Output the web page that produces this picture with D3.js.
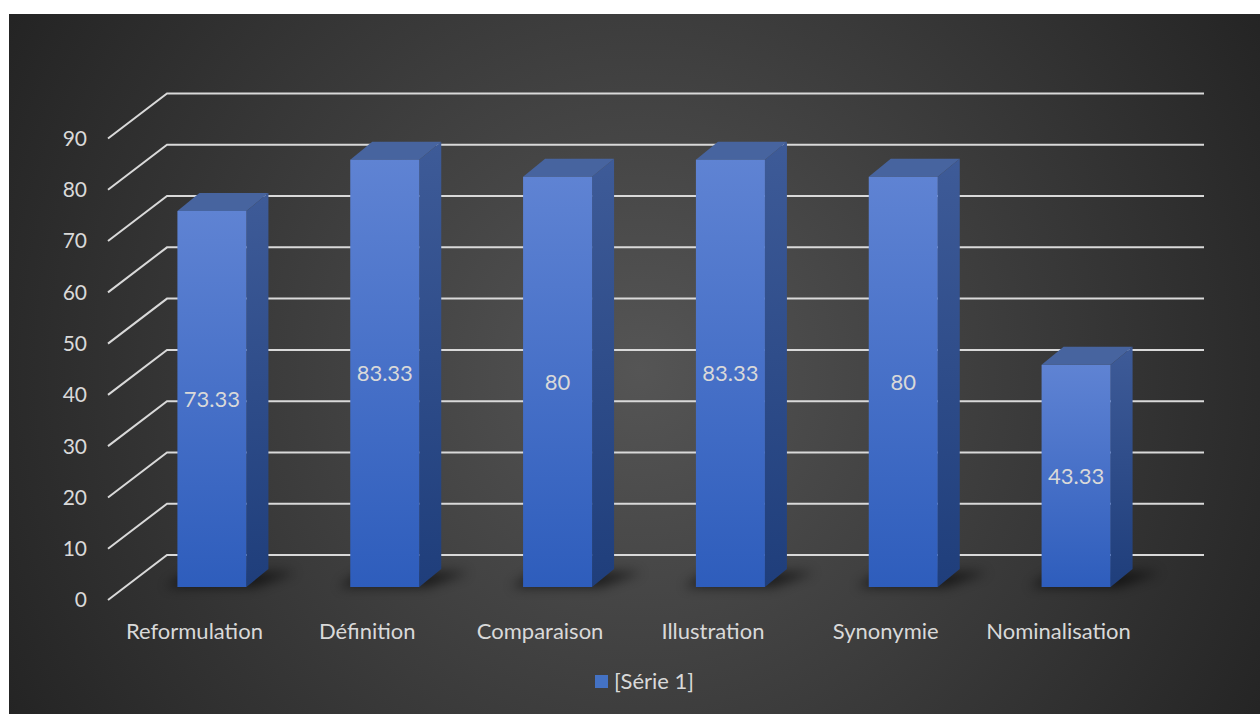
<!DOCTYPE html>
<html><head><meta charset="utf-8">
<script src="https://cdn.jsdelivr.net/npm/d3@7"></script>
<style>html,body{margin:0;padding:0;background:#fff;}svg{display:block;}</style>
</head><body>
<svg id="c" width="1260" height="714"></svg>
<script>
const categories = ["Reformulation","Définition","Comparaison","Illustration","Synonymie","Nominalisation"];
const values = [73.33, 83.33, 80, 83.33, 80, 43.33];
const valueLabels = ["73.33","83.33","80","83.33","80","43.33"];
const yTicks = [0,10,20,30,40,50,60,70,80,90];
const seriesName = "[Série 1]";

const svg = d3.select("#c");
const defs = svg.append("defs");
const FONT = "Lato, 'Open Sans', sans-serif";
const TXT = "#d9d9d9";

// background
const bg = defs.append("radialGradient").attr("id","bg").attr("gradientUnits","userSpaceOnUse")
  .attr("cx",640).attr("cy",370).attr("r",720);
bg.append("stop").attr("offset","0").attr("stop-color","#555555");
bg.append("stop").attr("offset","1").attr("stop-color","#242424");
svg.append("rect").attr("x",9).attr("y",14).attr("width",1251).attr("height",700).attr("fill","url(#bg)");

// gradients for bars
const gF = defs.append("linearGradient").attr("id","gF").attr("x1",0).attr("y1",0).attr("x2",0).attr("y2",1);
gF.append("stop").attr("offset","0").attr("stop-color","#5f83d3");
gF.append("stop").attr("offset","1").attr("stop-color","#2e5dbc");
const gS = defs.append("linearGradient").attr("id","gS").attr("x1",0).attr("y1",0).attr("x2",0).attr("y2",1);
gS.append("stop").attr("offset","0").attr("stop-color","#3e5b98");
gS.append("stop").attr("offset","1").attr("stop-color","#1f3e7b");
const blur = defs.append("filter").attr("id","sh").attr("x","-50%").attr("y","-300%").attr("width","200%").attr("height","700%");
blur.append("feGaussianBlur").attr("stdDeviation",6);

// geometry
const backLeft = 167, backRight = 1204;
const depthX = -59, depthY = 45;      // back plane -> front plane
const x = d3.scaleBand().domain(categories).range([backLeft, backRight]).paddingInner(0).paddingOuter(0);
const y = d3.scaleLinear().domain([0, 90]).range([555, 93.5]);
const barW = 69;
const barOffX = -41.5, barOffY = 32;  // back plane -> bar front face
const sideX = 22, sideY = -18;

// gridlines
const grid = svg.append("g").attr("stroke", "#d9d9d9").attr("stroke-width", 2).attr("fill","none");
yTicks.forEach(t => {
  grid.append("path").attr("d", `M${backLeft+depthX},${y(t)+depthY}L${backLeft},${y(t)}L${backRight},${y(t)}`);
});

// y labels
svg.append("g").selectAll("text").data(yTicks).join("text")
  .attr("x", 87).attr("y", d => y(d) + depthY).attr("dy","0.35em")
  .attr("text-anchor","end").attr("fill",TXT).attr("font-family",FONT).attr("font-size",21)
  .text(d => d);

// shadows
const bars = svg.append("g");
categories.forEach((c,i) => {
  const cx = x(c) + x.bandwidth()/2 + barOffX;
  const x0 = cx - barW/2, x1 = cx + barW/2, yb = y(0) + barOffY;
  bars.append("path")
    .attr("d", `M${x0-12},${yb}L${x1+8},${yb}L${x1+sideX+28},${yb+sideY+3}L${x0+12},${yb+sideY+3}Z`)
    .attr("fill","#000").attr("opacity",0.6).attr("filter","url(#sh)");
});
categories.forEach((c,i) => {
  const v = values[i];
  const cx = x(c) + x.bandwidth()/2 + barOffX;
  const x0 = cx - barW/2, x1 = cx + barW/2;
  const yt = y(v) + barOffY, yb = y(0) + barOffY;
  const g = bars.append("g");
  g.append("path").attr("d", `M${x1},${yt}L${x1+sideX},${yt+sideY}L${x1+sideX},${yb+sideY}L${x1},${yb}Z`).attr("fill","url(#gS)");
  g.append("path").attr("d", `M${x0},${yt}L${x0+sideX},${yt+sideY}L${x1+sideX},${yt+sideY}L${x1},${yt}Z`).attr("fill","#47649f");
  g.append("rect").attr("x",x0).attr("y",yt).attr("width",barW).attr("height",yb-yt).attr("fill","url(#gF)");
  g.append("text").attr("x",cx).attr("y",(yt+yb)/2).attr("dy","0.35em").attr("text-anchor","middle")
    .attr("fill",TXT).attr("font-family",FONT).attr("font-size",22).text(valueLabels[i]);
});

// category labels
svg.append("g").selectAll("text").data(categories).join("text")
  .attr("x", d => x(d) + x.bandwidth()/2 + depthX).attr("y", 631).attr("dy","0.35em")
  .attr("text-anchor","middle").attr("fill",TXT).attr("font-family",FONT).attr("font-size",22)
  .text(d => d);

// legend
const lg = svg.append("g");
lg.append("rect").attr("x",595).attr("y",675).attr("width",13).attr("height",13).attr("fill","#4472c4");
lg.append("text").attr("x",614).attr("y",681).attr("dy","0.35em").attr("fill",TXT).attr("font-family",FONT).attr("font-size",22).text(seriesName);
</script>
</body></html>
